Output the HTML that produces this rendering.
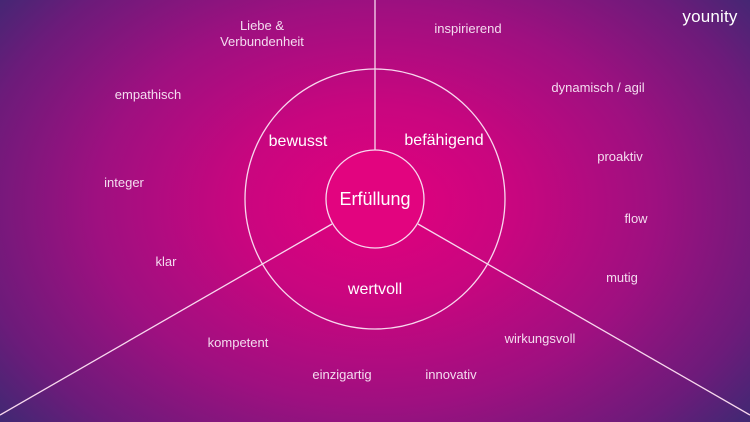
<!DOCTYPE html>
<html><head><meta charset="utf-8"><style>
html,body{margin:0;padding:0}
body{width:750px;height:422px;overflow:hidden;position:relative;
background:radial-gradient(ellipse 560px 400px at 375px 205px,#e3007e 0%,#c8067f 25%,#9e1080 50%,#6c1b7a 72%,#3a2a72 88%,#2a2e6e 100%);
font-family:"Liberation Sans","DejaVu Sans",sans-serif;color:#f4dcef}
.t{position:absolute;font-size:13px;white-space:nowrap;transform:translate(-50%,-50%);text-align:center;line-height:16px}
.b{font-size:16px;color:#fff}
svg{position:absolute;left:0;top:0}
</style></head><body>
<svg width="750" height="422">
<circle cx="375" cy="199" r="130" fill="none" stroke="#f8d8ee" stroke-width="1.3"/>
<circle cx="375" cy="199" r="49" fill="#e2047f" stroke="#f8d8ee" stroke-width="1.3"/>
<line x1="375" y1="0" x2="375" y2="150" stroke="#f8d8ee" stroke-width="1.3"/>
<line x1="332" y1="224" x2="0" y2="415" stroke="#f8d8ee" stroke-width="1.3"/>
<line x1="418" y1="224" x2="750" y2="415" stroke="#f8d8ee" stroke-width="1.3"/>
</svg>
<div class="t b" style="left:375px;top:199px;font-size:18px">Erfüllung</div>
<div class="t b" style="left:298px;top:142px">bewusst</div>
<div class="t b" style="left:444px;top:141px">befähigend</div>
<div class="t b" style="left:375px;top:290px">wertvoll</div>
<div class="t" style="left:262px;top:34px">Liebe &amp;<br>Verbundenheit</div>
<div class="t" style="left:468px;top:29px">inspirierend</div>
<div class="t" style="left:148px;top:95px">empathisch</div>
<div class="t" style="left:598px;top:88px">dynamisch / agil</div>
<div class="t" style="left:124px;top:183px">integer</div>
<div class="t" style="left:620px;top:157px">proaktiv</div>
<div class="t" style="left:636px;top:219px">flow</div>
<div class="t" style="left:166px;top:262px">klar</div>
<div class="t" style="left:622px;top:278px">mutig</div>
<div class="t" style="left:238px;top:343px">kompetent</div>
<div class="t" style="left:540px;top:339px">wirkungsvoll</div>
<div class="t" style="left:342px;top:375px">einzigartig</div>
<div class="t" style="left:451px;top:375px">innovativ</div>
<div class="t" style="left:710px;top:17px;font-size:17px;color:#fff;letter-spacing:0.2px">younity</div>
</body></html>
